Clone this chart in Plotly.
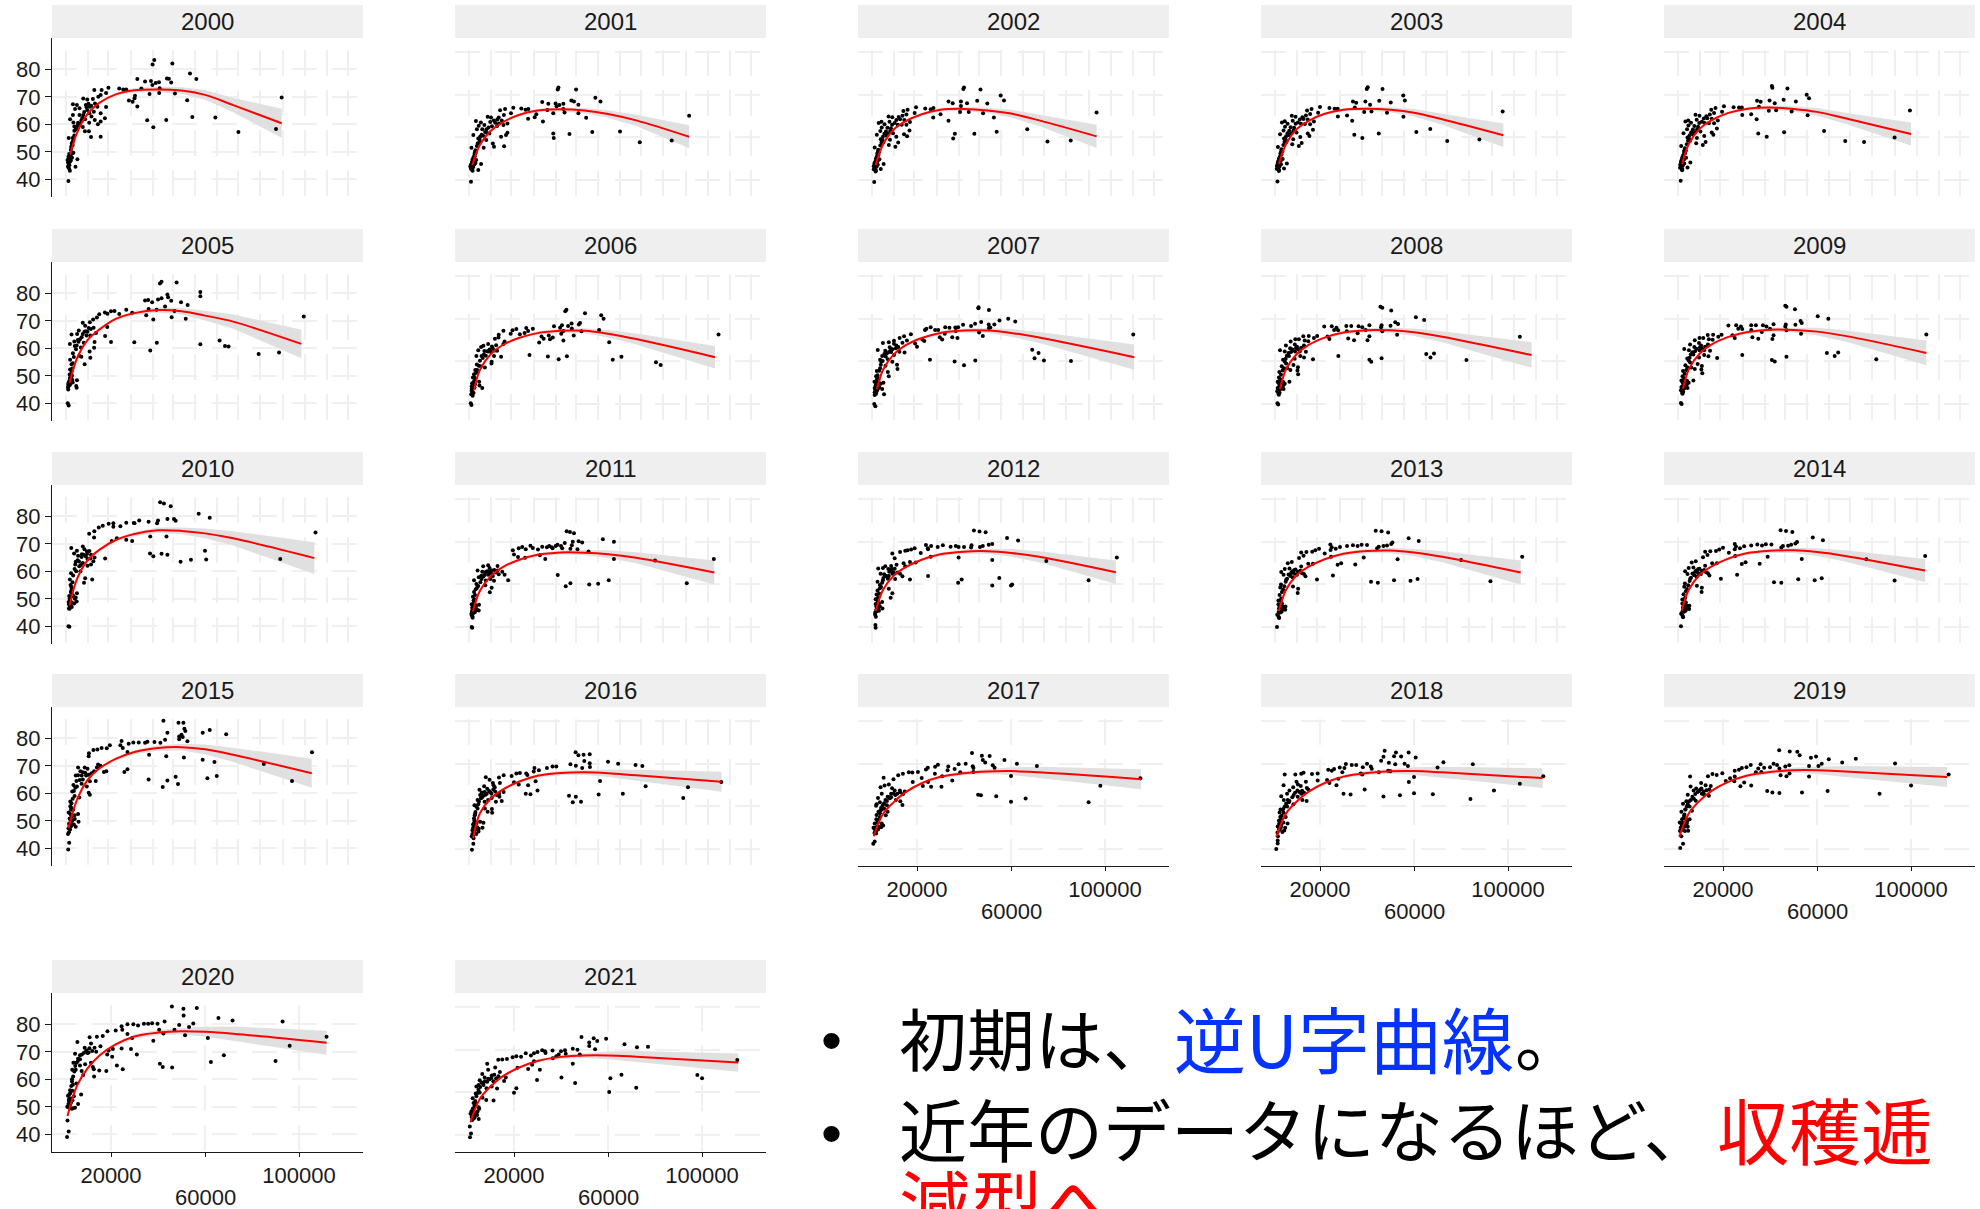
import plotly.graph_objects as go

YEARS = list(range(2000, 2022))
# Each P list: GDP per head (thousands) and life expectancy, alternating x, y
P2000 = [38.4,83.4,37.7,81.8,46.1,82.1,53.6,78.5,56.3,76.5,31.2,76.5,34.5,75.6,37,75.8,37.6,74.3,39,75,40.4,75.3,43.8,76.7,44.6,76.6,45.6,75.2,40.7,73.1,40.5,71.4,47.2,71.2,36.4,71,32.9,73,31.2,66.5,35.4,61.5,38,58.9,43.5,61.6,54.6,62.7,64.4,62.5,74.2,57.2,90.2,58.3,92.6,69.8,52.4,68.8,27.6,68.7,29.2,68.2,30,69.5,30.2,70.4,23.5,73,25.2,72.7,26.5,72.7,18.9,73.3,16,72.5,12.9,72.5,17.9,71.4,15.6,70.7,14.6,70,12.3,69.2,17.9,66.3,15.6,64,17.4,62.2,15.6,61,14.4,60,15.6,55.5,11.5,55.4,10.6,57.5,8.9,57.5,8.2,69.4,9.9,69,9.3,67,5.5,67,3.8,67.3,6.6,65.8,4.7,65.6,3.8,63.4,6.6,63.4,8.2,63.4,4.4,59.2,5.8,59.7,8,59,9,61.8,2.6,61.8,4,60.7,9.9,65.2,11,66.4,12.7,64.6,11.7,62.8,10.7,60.6,13.1,61.6,4.4,57.7,2,55,3.7,55,3.7,52.5,2.9,50.7,4,49.7,1.9,48.2,1.5,47,1.9,45.8,2.5,43.1,1.9,39.4,4.9,44.6,5.7,47.3,1.7,44.7,3,48.2,3.4,49.5,2.2,49.2,2.6,46.5,3.2,52,3.6,53.5,2.1,47.5]
P2001 = [38.9,83.4,38.6,82.5,46.4,82.5,54.6,78.6,56.8,76.9,32,76.6,34.6,75.8,37.7,75.9,38.1,74.7,39.3,75.2,41,75.8,44.4,77.3,45.5,76.9,47.4,75.3,34.2,72.9,41,73.4,41.5,71.7,47.4,71.3,36.7,71.3,50.7,69.2,28.8,69.5,26,68.8,29.5,70.9,32.3,67.5,36.7,61.9,36.9,59.7,43.6,61.6,53.3,62.5,65.1,62.8,73.5,57.7,87.1,58.6,94.5,70.2,23.1,73.6,24.9,73,26.1,73.4,19.7,73.9,16.2,73.4,14.1,72.8,18.7,71.3,15.7,70.5,13.5,69.4,12.9,68.4,17.2,66.6,15.5,65.8,17.2,62.2,16.6,61.1,14.5,60.3,15.8,55.9,11.5,55.6,11,57.2,7.1,55.2,8.8,69.7,10.2,69.4,9.9,67.3,12,66.9,3.8,67.7,5.9,67,5,65.5,7.4,65.8,4.2,63.8,6.5,63.8,8.3,63.8,2.7,61.1,9.5,61.9,5.6,60.3,8.2,58.8,4.8,59.5,5.5,58,1.9,55.2,3.6,54,3.2,52.2,2.4,49.7,3.9,49.4,2,47.8,1.4,46.3,2.4,44.4,1.7,39.2,4.8,44.7,6,47.5,1.7,45.5,2.4,47,3.2,48.6,2.2,46.2,2.8,50.8,3.4,53]
P2002 = [40,83.4,39.7,82.8,47,82.5,55.6,79.7,57,77.3,33.4,76.9,35.2,76,38.7,76.9,41.3,76.1,38.7,74.8,45.6,77.2,49.9,75.9,38.3,71.9,42,71.9,48.1,71.3,52.7,69.4,30,70.9,26.9,69.4,33.4,67.8,36.1,61.7,35.4,59.5,44.4,61.7,53.9,62.7,66.9,63.8,75.5,58.1,85.4,58.6,96.4,71.7,23.5,73.6,25.8,73.2,27,73.8,19.6,74.2,16,73,14.2,72.4,19,71.5,15.5,70.8,13.8,70.2,12.2,69.6,17,67.2,15.5,66,16.8,63.3,14.5,61.5,15.8,60.6,11.2,60.3,12,57.6,8,56.5,10.8,55.6,7.9,69.8,9.5,69.5,11.2,68.2,8.3,67.4,4.9,67.4,3.7,66.8,6.2,66.2,5,64.7,7.4,64.5,4.4,63,6.8,62.8,8.6,63,2.9,61.3,9.8,62,5.5,60.3,8.5,58.9,4.6,59.2,5.6,57.6,2,55.3,3.5,54.2,3.1,52.5,2.5,50,4,49.7,2.1,48.2,1.6,46.5,2.5,44.5,1.8,39.1,4.6,45.2,5.8,47.5,2,45.6,2.6,47,3.2,48.8,2.3,46.3,2.9,51,3.4,53.3]
P2003 = [40.3,83.6,39.9,82.7,46.6,82.7,55.4,79.7,56.1,77.3,34,76.9,35.4,76.3,39.3,76.9,45.2,77.2,50.1,76.4,41.3,75.3,34.8,74,38.8,71.9,41.9,72.2,48.5,71.6,55.5,69.7,31.5,70.3,27.6,69.8,33.7,67.8,34.6,61.3,38,59.7,45,61.9,61,62.5,66.9,63.9,74.1,58.3,87.8,59,97.7,72.2,24,73.8,26.2,73.5,27.5,73.5,20,74.3,16.4,73.4,14.5,72.6,19.2,71.6,15.8,71,14,70.3,12.5,69.5,17.4,67.5,15.8,66.2,17,63.6,14.8,61.8,15.5,60.7,11.6,60.2,12.2,57.4,8.2,56.8,11,56,8,70.2,9.6,69.7,11.4,68.4,8.4,67.8,5,67.6,3.8,67,6.2,66.4,5.1,65,7.5,64.8,4.5,63.2,6.9,63.1,8.7,63.2,3,61.5,10,62.3,5.6,60.5,8.6,59.2,4.7,59.5,5.7,57.8,2.1,55.5,3.6,54.4,3.2,52.6,2.6,50.2,4.1,49.9,2.2,48.4,1.7,46.7,2.6,44.7,1.9,39.3,4.7,45.4,5.9,47.7,2.1,45.8,2.7,47.2,3.3,49,2.4,46.5,3,51.2,3.5,53.5]
P2004 = [40.8,84.2,41,83.3,47.4,83,55.6,80,56.6,78.4,34.5,77.2,36,76.8,39.8,77.4,45.8,77.7,51,76.9,42,76,35.3,74.4,39.5,72.5,42.6,72.8,49.2,72.2,56,70.4,32,70.9,28.2,70.5,34.3,68.5,35,61.9,38.6,60.3,46,62.4,63,63,72,58.3,80,57.9,93,60,99.5,72.6,24.5,74.2,26.8,74,28,74,20.4,74.7,16.8,73.8,15,73,19.6,72.1,16.2,71.5,14.4,70.8,12.9,70,17.8,68,16.2,66.7,17.4,64.2,15.2,62.3,15.9,61.2,12,60.7,12.6,57.9,8.6,57.3,11.4,56.5,8.3,70.7,10,70.2,11.8,68.9,8.8,68.3,5.2,68,4,67.5,6.4,66.9,5.3,65.6,7.8,65.4,4.7,63.8,7.2,63.7,9,63.8,3.2,62,10.4,62.8,5.8,61,8.9,59.7,4.9,60,5.9,58.3,2.2,56,3.8,54.9,3.4,53.1,2.7,50.7,4.3,50.4,2.3,48.9,1.8,47.2,2.7,45.2,2,39.6,4.9,45.9,6.1,48.2,2.2,46.3,2.8,47.7,3.4,49.5,2.5,47,3.1,51.7,3.6,54]
P2005 = [41.5,84.2,40.8,83.6,47.9,83.9,58,80.5,58,78.9,34.5,77.4,35.8,77.6,37.5,76.8,40,77.8,41.5,78.2,44,79.6,44.3,78.6,45.6,77.3,49.8,76.8,52.6,75.8,43,75.2,36,74.3,39.4,74,38,70.5,35,72,45.8,71.3,51.8,70.8,47,73.6,66.2,62.8,58,61.5,29.9,62.2,36.7,59.2,39.5,62,68.5,60.8,70,60.7,82.8,57.9,91.5,58.5,102,71.6,26.5,74,23.5,72.5,29,72.9,20,73.5,21.5,73.6,18.5,72.6,17.4,73,15,72.4,14,71.2,12.4,70.5,11,69.5,18.4,67.8,17.5,64.5,20,62.3,13,62.3,12.8,60.2,10.9,58.8,11.2,56.6,7.4,56.9,8.8,54.2,8,69.3,9,68.2,6.3,66.5,5.6,65.2,3.2,65,7.5,64,9.6,64.7,11.2,64.7,4.4,62.5,6.2,62.4,8.4,62,2.5,61.6,13.6,65.6,5.1,59.7,3.8,58.2,6.5,57.3,2.6,55.8,3.5,52.7,3.1,50.5,2.8,48.7,3.7,47.6,2,47.5,1.7,45.8,1.8,45,1.6,40,2,39.2,5.5,48.4,5.2,46.3,5.4,45.7,2.4,50.5,3.2,54.2,2.6,52.3]
P2006 = [42.3,84.3,41.8,83.6,50.2,82.6,57.1,81.7,58.1,80,56.2,74.8,47.6,77.3,48.1,78,44.5,77.8,40.4,77,43,76.6,37,76.5,39.6,75.8,44.6,75.5,48.7,74.2,41,74.3,45.4,72.2,40.1,73,35.3,70.4,31.7,71.7,32.6,70.7,34.8,72.2,36.5,71.2,41,69.8,30.7,68.9,34.4,62.3,26.6,63,39,61,42.5,62.4,62,60.8,60.5,69,65.7,62.2,80.4,59.6,82.4,58.3,107,72.7,28,75.4,25.2,75.7,26,74.3,24.5,73.4,21,75.2,22.5,72.8,19.4,74.6,18.6,73,15.5,74.4,13.5,72.5,13.4,71.2,11.9,70.6,16,69.4,15.5,68.2,12.4,67.6,10.6,67,9,68.2,7,67.4,6,66.8,4.8,65.2,7.4,64.9,9,64.7,4,62.5,6.2,62.5,11.5,62.5,14.5,62.2,10.5,59.8,10.4,59,5.9,57.7,7.6,57.2,3.5,56,3,54,2.5,52.5,5.2,50.5,5.3,48.7,2.7,49.3,2,47,2.1,46,2.4,45,1.6,40.3,1.9,39.5,6.5,47.5,3.4,51,2.9,47.5,4.2,58.5]
P2007 = [46.2,85.5,46.1,85,50.6,84.2,55.1,79.2,52.9,77.3,58.8,80,61.8,78.7,47.3,78.5,50.5,77.3,44.7,77.7,50.6,75.7,51.2,75.9,43,76.6,39.6,77.2,36.3,75.9,37.5,76.1,33.8,75.8,32,76,24,75.4,25.8,76,23.4,74.8,27.7,74.8,29,74.8,31.8,73,36.5,74.3,46.4,73.6,48,72,35,71.3,29.7,71.4,30.7,70.3,37.2,71,22.3,70.3,23.1,69.6,19.2,68.4,20,66.9,25.5,60.8,36,60,40,58.2,44.8,60.4,69,65.5,71.7,64,70,61.5,74,60.4,85.5,60.2,112,72.7,17.4,72.8,14.5,71.8,12.6,71,15.7,69.8,13.8,68.8,10.2,69.7,10.2,68.3,8,69,5.5,68.6,8.4,66.7,11,66.2,3.3,65.4,6.5,65,9,64.4,12.5,64.5,14.7,64.2,5.2,62.5,4.3,60.8,7.6,61,9.5,59.8,11.5,58.4,4.6,58.4,6.6,58,11.7,56.5,7.6,55,8,53,2.9,55.5,2.6,53,1.9,50.5,3.3,50,5.7,50,5.2,47,4,47.8,2,47.5,2,45.5,1.8,40,2.3,39,2.8,46,6,44.6,3.5,52]
P2008 = [45.7,85.7,46.5,85.2,50.3,83.9,60.8,80.7,64.3,79.5,52,78.4,50,76.8,53.2,77.6,46.2,77,46,76,41,77,38,76,36.4,76.5,33.3,76.6,31.2,76.6,25,76.5,27,75.8,21.8,76.4,26,74.8,27.7,74.7,31.4,74.2,36,73.2,39.4,74.8,46.5,74.2,52.8,72.5,41,71.8,32,70.8,34.5,70,40.2,70,23.2,71.7,24,70.5,18.8,71.9,17.4,71,15.2,72,12.9,71.8,11,70.4,13.5,69.8,15,69.5,9.5,70.4,7.5,69.4,9.3,68,10.2,66.9,5.5,67.5,7.3,66.2,3,65.3,5,64.7,9.4,64.7,11.4,64.7,14,64.5,6.8,62.6,4.3,60.8,9.2,61.2,13.2,61.8,17,61,27.8,62.5,41,60.8,41.8,59.8,46.2,61.5,65.2,63.5,67,61.9,68.5,63.7,82.3,60.7,105,71.6,10.6,57.3,10.4,55.7,8.7,58.3,10.7,54,5.6,59,6,56.8,7.4,56,3.7,57.7,2.7,55,2.5,52.5,2,50.5,3,50,4.4,50.3,5,49.5,2,47.5,1.8,46,2.5,44.3,1.9,40.3,2.2,39.8,4.5,47,7,50.5]
P2009 = [46.5,86.2,47,85.7,50.6,84.5,60.3,81.2,64.8,80,53,79,50.8,77.2,53.5,78,46.7,77.4,46.5,76.4,41.5,77.5,38.5,76.4,37,77,34,77,32,77,25.6,77,27.6,76.4,22.3,76.9,26.5,75.3,28.2,75.2,32,74.8,36.5,73.8,40,75.3,47,74.7,53.2,73,41.5,72.3,32.5,71.3,35,70.6,41,70.5,24,72.3,25,71,19.4,72.5,18,71.6,15.8,72.5,13.5,72.4,11.6,71,14,70.4,15.6,70.2,10,71,8,70,9.8,68.6,10.7,67.5,6,68,7.8,66.8,3.5,65.8,5.5,65.3,10,65.3,12,65.3,14.5,65,7.4,63.2,4.8,61.4,9.8,61.8,13.8,62.4,17.5,61.6,28.2,63,40.8,60.7,42,60,47,62.2,64.2,64,67.5,62.5,69,64.2,85.2,61,106.5,72.7,11,57.8,10.8,56.2,9.2,58.8,11.2,54.5,6,59.5,6.5,57.2,8,56.5,4,58.2,3,55.5,2.8,53,2.3,51,3.4,50.5,4.8,50.8,5.4,50,2.3,48,2.1,46.5,2.8,44.8,2.1,40.5,2.4,40,4.9,47.5,7.4,51]
P2010 = [40.9,85.1,42.5,84.7,45.4,83.7,57.3,80.9,62,79.5,44,79,46.8,79,47.5,78.4,40,78.5,39.6,77.5,36,78,32,78.5,30,77.5,26.5,77.7,29.7,77.6,24,76.4,21,76.2,21,77.5,19,77.3,16.5,76.6,14.8,75.9,12.9,74.6,10.7,73.7,12.8,72.3,22.5,72,26.5,71.5,20.3,71,29,71,36.7,72.7,43.6,72.7,60,67.5,92,64.5,107,74.1,36.6,66.5,38,65.5,41.5,66.4,44,66,49.6,63.5,54,64.2,60.5,64.3,17.5,64.7,8,69,8.7,68,9.8,66.3,11.5,66,13,65,10,64.5,5.5,67.5,3.1,68.5,4.3,66.5,6,65.7,7.5,65.2,4.8,62.5,6.5,61.8,8,63,10,62,11.5,62.5,5.2,60,7,60,3,59.3,9,57.5,8.5,55.8,12,57,2.5,57,2.8,55,3.3,53.5,2.2,51,3.2,50.8,5,50.5,5.5,52,5.4,49,4.3,48.3,2.1,48,2.5,47.2,1.9,40,2.3,39.8,3.3,47,2.4,50,3.1,52.2]
P2011 = [42.4,85,43.8,84.6,45.5,84,57.8,81.2,62.5,80,47.5,80.3,45,80,49,79.7,41.6,79.4,40,78,44.6,78.4,35,78.1,36,77.5,37.7,78,38.5,78.6,40.5,77,44,76.8,47,76.5,27,78.2,28,77.1,32,77.7,34,77.5,36.4,77,30.2,76.4,23.5,77.6,22,77,25,76.5,19.5,76,20,74,21.7,72.9,24.7,72.5,31,73.7,33.3,72,51.7,75.5,62.5,72,80,71.2,105,72,38.6,64.4,42,59.2,44,60.5,52,60,55.8,60.3,60.3,62,93.5,60.5,17.5,62,15,66,16,64.5,13.5,64.8,12.2,65.6,10.5,66.5,13,68.7,9,69,9.6,67.7,6.9,68.5,4.5,66.5,6.5,66,7.8,65.7,9,64.6,5,63.4,6.2,62.6,8,61.8,10,62.5,11.5,61.7,3,62,4,60.2,7.8,59.6,10.5,58.4,9.7,56.3,3,56.5,2.5,54.2,2.8,52.4,2,50.7,2.9,50,3.6,50.3,5.1,50.5,5,47.8,4.4,48,2.1,47.5,2,46.5,2.3,45,2,40,2.2,39.7,3.4,47]
P2012 = [44.2,85.3,46.6,84.9,49.2,84.5,58.3,81.8,63,80.6,50.5,78.6,48,78,52,79,43.2,78.4,43,77.4,46.8,77.6,40,77.6,37.7,77.6,34.3,77.7,36.5,78,31,78.4,28.8,77.6,26,78,24.6,77,23.8,78.5,24.7,76.5,19,77,17.5,76.4,16,76,15,75.8,12.8,75.2,9.5,74.5,10.5,72.3,21.6,74.8,25.8,73,37.7,72.6,52,71.5,75,71,105,72.7,17,70.5,19.5,70.3,14.3,70,11.3,69.2,15,68.5,9,68.6,6.5,68.5,5.5,67.7,7.8,67.2,3.5,67.5,4.5,65,6,64.8,8.2,66,9.5,65,5.5,62,7.6,62.7,10.7,62.6,13.8,63.8,17,62.3,24.7,64,37.5,60.8,39,62.3,52,59.5,55,63,60.5,60,60,59.5,93,62,3.2,61.3,4.2,59.7,8,58,9.5,55.8,8.8,53.8,3.2,57.2,2.8,55.3,2.4,53,2.4,50.8,3.2,51.5,5.2,51.8,5.3,48.7,3.3,49.5,3.8,47.6,2.2,46.7,2.3,41,2.4,39.6,2.8,48.2,3.5,49]
P2013 = [43.7,85.2,46.2,85,49,84.4,57.7,81.7,62,80.4,50.3,79,48.5,78.3,50.8,79.7,45,77.7,44.3,77,47,78,40,78.5,37.7,78.6,34,78.4,36,78,31.5,78,28.5,77.6,26.7,76.7,25,77.5,24.4,78.8,24.5,76.2,19.6,76.8,18,76,16.7,75.4,14.2,75.2,12,75,13,73.5,11.1,72.4,22,74.5,24.7,73,38.6,72.7,53,71.8,80,71.5,106,73,35,69.4,27.5,69.3,29,70,15,69.7,17,69.7,12,68.4,8,70.5,6.3,70,5,67.3,7,67.5,9.1,66.8,3.5,65.8,4.5,64.5,7.8,65.5,8.4,63.2,5.6,62.2,10.2,64.5,13.8,63.8,18.7,62.3,25.5,64.2,41.7,61.2,44.6,60.8,51.5,62,58.5,61.7,61.5,62.5,92.5,61.5,3.4,60,8.5,59,10.7,58,10.5,56,3.1,58.5,2.8,55,2.3,52.5,2.3,50.7,3.2,49.8,5.3,49.6,5.2,48.1,3,48.3,3.7,47.2,1.8,45.8,2.6,44.2,1.7,40,3.1,47,4.3,48.3]
P2014 = [44.5,85.4,46.8,85.1,49.5,84.6,58.2,82,62.5,80.7,50.8,79.2,49,78.6,51.5,79.9,45.5,78,44.8,77.3,47.7,78.2,40.6,78.8,38.2,78.9,34.6,78.7,36.6,78.3,32,78.3,29,77.9,27.2,77,25.5,77.8,25,79,25,76.5,20,77.2,18.4,76.4,17,75.7,14.6,75.6,12.4,75.4,13.4,73.8,11.5,72.8,22.5,74.9,25.2,73.4,39,73,53.5,72,81,71.8,106,73.3,35.6,69.7,28,69.6,29.6,70.4,15.4,70,17.4,70,12.4,68.8,8.4,70.9,6.7,70.3,5.4,67.7,7.4,67.9,9.5,67.2,3.9,66.2,4.9,64.9,8.2,65.9,8.8,63.6,6,62.6,10.6,64.9,14.2,64.2,19.1,62.7,26,64.6,41.7,61,44.8,60.8,52,62.4,59,62,62,62.9,93,61.8,3.8,60.4,8.9,59.4,11,58.4,10.9,56.4,3.5,58.9,3.2,55.4,2.7,52.9,2.7,51.1,3.6,50.2,5.7,50,5.6,48.5,3.4,48.7,4.1,47.6,2.2,46.2,3,44.6,2.1,40.3,3.5,47.4,4.7,48.7]
P2015 = [42.3,86.4,48.7,85.7,50.8,85.7,51.2,83.5,51.6,82.7,62,83,59,82,69,81.5,50,81.3,50.5,80.5,44,82,49,80.7,49,79.7,52.5,78.9,43,79.5,41,78.4,38.5,78.7,34.5,78.4,35.5,78.8,31.8,78.5,29.5,78.5,27.5,78,25,76.5,24,77.5,24.5,79,19.5,77.5,18.2,76.4,16,76.5,14.2,75.9,12.5,75.8,10.6,74.6,10.5,73.5,27,75,36.2,74,43.5,73.5,51,73,59,72.2,64,71.4,85,70.7,105.5,74.9,25.7,67.8,27,68.8,36,65,47.5,66,42,62.3,44,64.7,48.5,63.4,61,65.5,65,66.3,97,64.5,14.5,70.5,15.5,70,14,69.4,18,68,17,67.8,10,68.9,6,69.4,9,67.5,7.5,66.5,5,66.5,8,65,11,64.4,13.5,64.5,4,63,5.5,62.5,7.5,63.5,9.7,62.5,10.5,60.2,11,59.5,3.5,60.7,4.5,59,6.5,58.5,2.7,57,2.7,55.3,3,54,2,53,4.5,52,3.3,51.6,6,52.5,6.2,49.7,3.5,50,2.3,48.5,3,48,1.7,45.2,2.2,42,1.8,39.6,2.7,50.5,5,47.8]
P2016 = [46.2,85.5,47.4,84,49.6,84.3,52.2,84.5,49.9,81.3,52.2,80.3,60,81,64.3,80,71.7,79.5,74.6,79,49,78,46.3,79.1,44,79.8,52.3,78.5,38,78.7,36.4,78.7,34,78,30.6,77,28.7,78,28.4,76.4,25.2,75.5,25.7,74.8,22.5,75.7,21,75.5,19,74.3,15.6,74.6,13.6,73.6,8,73.7,14,71,22,70.3,20,71.3,29.2,71.8,26,70,56.6,72,76,69.5,94,69,108.2,71.5,30,67.5,25,66,27,65.7,45,62,43.4,65,48.5,62.2,46.3,64.5,56,65.6,66.3,66,92,64,9.6,72.5,11,71,11.3,70,11.8,69,8.6,68.3,7.3,69.5,5.3,67.8,6.3,66.6,5.6,65.4,7.9,65.5,10,66.7,12,67,13.7,66,15.6,66.8,4.5,63,7.5,62.2,9,63,10.5,64,12.3,62.2,14.8,62.5,3.2,60.6,4.5,59,7.6,59,8.8,57.5,10.6,58.8,10.7,57,3.5,56.6,3,54.5,2.6,51.5,3.4,50.5,5,49.5,7,52.3,6.6,50,4.9,48.2,3.9,47,2.3,47,2.8,45,2.7,42.5,2.1,39.6,4,52,3.1,48.5]
P2017 = [43.4,85.1,47.6,83.8,50.9,83.7,57.2,81.8,62.5,80,71,79,48,81.8,49,80.6,52.2,79.3,53,78.2,37.7,79.8,40.7,80,43.7,78.9,44,78,33.3,78.8,36,77.6,28.9,79.6,27.7,78.6,24.6,78.2,23.8,77.4,33,77,38.4,76,44,76.2,60,74.3,27.6,75.3,30.7,74.2,20.4,76.2,18,75.9,16.5,76,14,75.3,12,74.6,10,72.8,5.8,73.5,4.5,69,22,73.4,24.7,71.5,22.5,69.6,30.4,69.3,35,72.2,26,69.3,46,65.5,47.2,65.2,53.7,64.8,60,62.2,66.2,63.7,93,62,98,69.7,115,73.2,18.2,71.5,10.5,67.5,9,66,7.5,64.5,9.4,68.5,6.2,69.8,12.7,67.5,14.8,67,14,65.7,8,70.3,5,66,7.2,62.5,11,63,12.9,62.4,13.8,60.7,4.2,62,3.4,64,2.8,61,2.6,60.3,4.7,59.3,6,59,6.7,55.8,7.5,57.5,4.2,55,2.8,56,2.7,54,3.3,52.7,2,52,1.5,50,2.6,47.3,1.4,42.5,2,43.5,5,52,3.6,57.5]
P2018 = [47.5,86.1,52.3,85.3,57.7,85.3,51.5,83.6,54.5,83.4,60.7,83,47,83.3,46,81.5,49.3,80.5,56,80,52,79.8,57.4,79,72.5,80.7,70,78.3,85,79.8,40,80,41.6,78.7,38.2,78.4,42,77.7,31,79.9,33.5,79.5,35.4,79.5,28.4,78.3,30.4,78,26,77.6,23.5,77.2,45,76,50,76.5,49,76.8,37.3,75.5,38,75,25,76.8,29.5,76,19,75.5,16.6,75.2,13,75.8,12,75.3,9.5,75,5,75,27.8,73,19,72.2,23,72.4,24,71,27,70,60,73.8,57.8,71.5,105,70.6,115,74.2,30,66,33,65.6,39,68,47,64.7,54,65.2,60,66.2,68,65.7,84,63.5,94,67.5,10,71.6,10.6,70.3,11.8,69.6,14,71.6,8.6,69,15,68,4.5,70,7,67.5,6,66,12,66,10.5,64.5,12.5,63,14.3,62.5,3.5,64.8,4.6,63,6.7,62,8.7,61,6,60,3.2,58.5,2.8,57.2,4.5,57,3.1,55,5.4,55,2.5,53.3,3.8,52.2,5.2,50,2.6,49.5,4,48,2.1,46,2,42.6,1.4,40,2,44,3.3,50]
P2019 = [43.9,86.4,48.4,85.8,51.6,85.7,52.6,84,57.4,82.9,59.6,83.5,65,82.2,76.5,82.4,93.2,80.2,70.7,80.6,62,80,60.6,79,56.6,79,48.2,79.3,46.5,78.7,41.5,80,43,79.5,40,78.4,44,77.8,36,79.8,37.5,78.2,35,77.8,31.8,79.4,30,78.4,28,78,26.8,77.2,25,76.8,34,76,36.3,76.2,48.3,75.5,47,74.2,56.6,74,44.5,74.6,25,74,23,73.2,21.2,72,19.7,75.6,17.3,74.8,15.5,75.2,13.6,74.2,6,74,24.8,71.8,29,71.2,27.4,69.5,32,69.8,38.8,67.2,41,66.6,44,66.3,53.6,66.5,64.5,67.3,86.6,66,100,69.8,116,75,10.7,71,12.6,69.9,10.4,68,8.6,68.4,14.8,69.6,6.2,69.4,7.5,67.5,5,65.5,11,66,14,65,12,65.5,8.4,62.7,4.4,62.4,3,61.3,5.8,60,4,58.6,2.3,57.5,6.8,58,3.4,55.5,4.3,54,2.6,54,3.5,51.8,1.6,52.5,5,50.5,2.5,49,2.3,46,3,42.5,1.8,40.5,3.8,48.5,4.7,53]
P2020 = [45.9,86.5,50.8,85.7,56.5,85.9,50.9,83.2,65.7,82.3,71.7,81.4,93,81,96,72.2,61.2,75,51.5,76,47,78,49,79.8,55,80.3,53.2,79,39.8,80.2,42.8,81,35.8,80.2,34,80.2,37.5,80.4,27,80,29.5,80,31.5,79.6,24.5,79.3,24.8,78,40.5,78,42.3,76.7,38,74,27,76.5,29,75,22,77.8,18.5,77.5,16.5,75.8,14,75.5,10.9,75.3,5.7,73.6,28.5,71,20.8,71,24.5,71.2,31,69,40.8,65.7,42,64.5,46,64.3,62.5,66.3,68,68.8,90,66.7,111.7,75.5,19,70.5,18.4,69,20.5,68.2,15.5,72,11.5,73,8.8,71.5,13.7,70,10.5,69.8,4.7,69.3,6.8,68.8,5.8,66.5,4,66,6.8,65,9,65.5,11.5,66,12.3,64.5,5,63.5,3.5,63.5,7.5,63,8.2,61.6,12.7,63.7,15,63.2,18,63,22.5,65,25,63.7,12.8,61,7.3,54.5,3.4,60,3.8,58,5.3,58.5,1.7,54,2.5,53,3.7,55.8,2.2,52,4.7,49.7,6,51,3.3,49.3,1.4,50,1.5,45,2,41,1.3,39,3.8,49.5,2.6,56]
P2021 = [48.7,86,53.9,85.5,59.2,85.2,55.4,84.2,52,83.5,67,82.6,72.3,81.2,77,81.5,52,81.8,54.5,80.3,47,80,45,80.5,41.7,79.8,40,79.3,36.4,79.7,32,79.8,33.2,79.3,30,79,28.5,78.4,25,78.4,27.2,77.4,33.4,78.5,39,77.8,38,77,48,77.8,21,77,23,76.8,19.4,76.5,17,75.7,15,75.5,13.3,75.4,8.6,73.5,28.5,74.7,27.7,73,42,78.2,36.5,76.1,45,73.5,26,71,21.5,71.6,31,70.7,40.2,67,29.8,65.8,46,64.4,61,66.7,65.7,68.3,60.5,60.2,72,62.2,98,68.2,100,66.7,115,75.2,9,70.7,12,71.7,14,69.6,11.6,68.3,10.5,68,6.5,68.7,7.5,67,9,66.4,5.4,65.7,16.5,67,15.8,65.4,5,63.5,7,63.5,8.3,62,10.5,62.8,12.8,61.8,21,62,20,59.8,4,62.8,3.7,59.5,5.4,60,6.6,57.5,8.2,56.5,11.3,56.2,2.4,57.3,2.8,55,3.7,54.8,2.5,52.5,5,53,4,50.5,1.5,50,2.5,49,2.2,47,1.2,44,1.7,40.7,1.3,39,5,47.5,3.3,48.5,4.5,51]

# Points in the dense lower-left cloud of each panel, alternating x, y
E2000 = [2.2,46.3,2.4,47.9,2.8,49.2,3.1,51.5,3.3,53,3.9,54,4.4,55.9,5,58.2,5.4,58.8,6,60.6,6.8,60.2,7.4,61.5,7.8,62.3,8.6,64.5,9.6,66.2,10.4,67.5,10.8,64,11.6,66.8,13.2,67.6,14.2,66.4,1.8,46.2,2.3,45.1,2.9,46.8,3.4,47.8,2.1,44]
E2001 = [2,46.7,2.2,48.7,2.6,48.6,2.9,49.9,3.3,51,3.7,52.8,4.2,56,4.6,57.3,5.3,59.2,6.2,61.2,6.9,60.8,7.7,62.5,8.5,62.1,9.2,64.7,10.6,65.2,11.4,68,12.8,65.4,13.6,66.5,14.8,68,1.6,47,1.9,44.9,2.6,46,3.1,47.3,2.1,45,3.6,48]
E2002 = [1.9,46.9,2.3,48.6,2.7,49.3,3,50,3.6,51.8,3.9,53.2,4.4,56.2,4.9,57.6,5.3,58.8,6.1,61.7,7,60.8,7.6,61.8,8.9,64.3,9.4,66,10.5,66.8,11.8,66,12.8,68.5,13.5,66,14.6,68.2,1.6,45,2.2,45,2.8,46.2,3.3,47.2,1.9,47.7,2.4,44]
E2003 = [1.9,46.8,2.3,48.9,2.7,49.5,3.1,50.4,3.6,52,4,53.4,4.4,56.4,4.9,58,5.4,59,6.2,62,7,61,7.8,62,9,64.6,9.6,66.4,10.6,67,11.9,66.4,13,68.7,13.6,66.3,14.8,68.4,1.6,45.3,2.2,45.2,2.8,46.4,3.4,47.4,2,48,2.5,44.2]
E2004 = [2,47.2,2.4,49.4,2.8,50,3.2,50.8,3.8,52.4,4.2,53.8,4.6,56.8,5.1,58.4,5.6,59.4,6.5,62.4,7.3,61.4,8.1,62.4,9.4,65,9.9,66.8,11,67.4,12.2,66.8,13.3,69,14,66.7,15.2,68.8,1.7,45.7,2.3,45.6,2.9,46.8,3.5,47.8,2.1,48.4,2.6,44.6]
E2005 = [1.9,46.7,2.2,48,2.5,49.2,2.9,49.4,3.2,51.5,3.4,50,3.8,54.6,4.2,56.8,4.6,60.8,5.4,61,5.9,63,6.8,63.3,7.2,60.3,8,65.2,8.7,66,9.3,66.2,10,66,10.5,67.4,11.4,67,12.6,67.5,1.8,47,2.4,46.6,2.8,47.3,2.2,47.5,3.5,48.6]
E2006 = [2,46.4,2.3,48.2,2.6,47.4,2.9,50.4,3.2,52.5,3.4,49.3,3.9,54.7,4.3,56,5,58,5.5,60.3,6.7,61.6,7.2,63.3,8,62.7,8.6,64.8,9.6,65.6,10.2,64.4,11,66,11.8,65.1,12.8,65,1.8,44.6,2,48.3,2.4,43.9,2.8,45.2,3.2,47.8,2.2,49.8]
E2007 = [2.2,46.8,2.5,47.8,2.7,49.6,3,51.6,3.2,53.5,3.6,50.7,3.9,55.6,4.3,56.8,4.8,60,5.4,60.2,6.1,63.5,6.7,62.3,7.2,63.8,8.1,64.4,8.8,65.8,9.6,65.7,10.2,63,11.2,67.5,12,66.8,2,44.2,2.6,44.8,3.2,46.8,3.6,48.6,4.5,49.5,2.4,48.7]
E2008 = [2.2,46.4,2.6,48.1,2.9,49,3.1,51.6,3.4,53.8,3.8,50.6,4.1,55.7,4.6,56.8,5,60,5.4,61.2,5.9,62.7,6.6,63.9,7.7,64.4,8.3,65.6,9.8,66.3,10.6,65.8,11.6,62.6,12,66.4,13.2,67.5,2.3,44.8,2.8,45.3,3.3,47,3.8,48.5,4.3,48.7,2.5,49.8]
E2009 = [2.5,46.8,2.9,48.4,3.2,49.4,3.4,52,3.7,54.2,4.1,51,4.4,56,4.9,57.2,5.4,60.4,5.8,61.7,6.3,63.2,7,64.3,8.1,64.8,8.7,66,10.2,66.7,11,66.2,12,63,12.4,66.9,13.6,68,2.6,45.2,3.1,45.7,3.6,47.4,4.1,48.9,4.6,49.2,2.8,50.2]
E2010 = [2.1,46.5,2.4,48.8,2.7,49.4,2.9,52.6,3.1,54.4,3.6,56,3.9,58.5,4.5,60.8,5,63.5,5.8,64,6.4,63.6,7.2,62.3,7.6,66.2,8.3,66,9.2,65.5,9.8,67.2,10.8,67.4,11.2,64.7,12.5,63.7,2.4,46.4,2.8,47.6,3.4,48.6,4.6,50,2,48.8,3.8,51.3]
E2011 = [2.3,46.3,2.5,48.4,2.7,49.3,3,51.3,3.2,53,3.4,55,3.7,57.7,4.2,58.3,4.8,59.3,5.7,61,6.1,64.1,7,63.7,7.5,64.4,8.5,66.2,9.2,66.1,10.2,65.3,11,64,11.6,66.8,13,66.6,1.9,45.8,2.4,44.3,2.8,46.6,3.3,48.5,3.8,49.5,2.2,49]
E2012 = [2.5,47.2,2.7,49.6,3,50.2,3.3,52.5,3.5,54,3.9,55.7,4.2,58.2,4.7,58.8,5.2,60.8,5.7,63,6.6,64.1,7.1,63.8,8,64,8.8,66.4,9.3,67.2,10,65.7,10.5,67.4,11.7,65.6,12.8,65,2.2,45.8,2.5,44.8,3,47.6,3.6,48.2,4.2,49.8,2.7,48,3.8,51.2]
E2013 = [2.4,47,2.6,48.8,2.9,49.8,3.2,52.3,3.5,53.4,3.8,56.4,4.3,57.5,4.8,59.2,5.4,61.2,6,62.7,6.6,64.7,7.4,63.9,8.2,66.2,9,65,9.6,67,10.6,66,11.6,66.4,12.4,65.3,13.2,64.9,2.1,45.6,2.5,44.6,3,46.8,3.5,47.7,4,49.7,2.7,48.5,3.8,51.1]
E2014 = [2.8,47.4,3,49.2,3.3,50.2,3.6,52.7,3.9,53.8,4.2,56.8,4.7,57.9,5.2,59.6,5.8,61.6,6.4,63.1,7,65.1,7.8,64.3,8.6,66.6,9.4,65.4,10,67.4,11,66.4,12,66.8,12.8,65.7,13.6,65.3,2.5,46,2.9,45,3.4,47.2,3.9,48.1,4.4,50.1,3.1,48.9,4.2,51.5]
E2015 = [1.9,47.3,2.2,49,2.4,50.8,2.8,52.4,3,54.8,3.2,56.4,3.7,58,4.2,60.8,4.8,62,5.3,64.5,6,66.6,6.7,64.8,7,68,8,67.7,8.8,69.4,9.4,66.5,10.4,66.8,11.7,67.3,12.8,68,2.6,46.8,2.9,49.3,3.6,50.2,4.2,48.7,4.6,50.7,2.1,45.8,3.9,54]
E2016 = [2.3,48.8,2.6,50,2.9,52,3.1,53.4,3.3,55.8,3.6,57.4,4,60,4.8,61,5.1,62.3,5.9,63.8,6.4,64.2,7,65,7.5,66.8,8.4,66,9.4,67.2,10.4,66,11.2,68,12.7,65.4,13.8,64.6,2,46,2.5,46.5,3,47.6,3.6,49.2,4.4,50.2,2.8,49.4,5.6,52.8]
E2017 = [2.2,48.4,2.6,49.8,3,50.6,3.2,52.7,3.6,53.8,4.2,56.8,4.4,58,5,58.6,5.4,60.6,6,61.5,6.6,63,7.2,60.6,8,64.4,8.4,63.8,9,64.3,10,66.1,10.8,65.4,11.6,66,12.8,66.7,2.5,48.3,3.4,49.2,3.9,50.4,4.7,50.2,5.6,51,1.9,47.5,1.8,49.8]
E2018 = [2.4,50.4,2.6,51.8,3,52.4,3.4,54.2,3.7,55.6,4,58.4,4.4,58.8,5,60,5.6,61.4,6.3,63,7,62.5,8.2,64.3,8.8,65.4,9.4,66.4,10.4,67.5,11.2,66.8,12.4,67.4,13.2,66.4,14.4,68.6,2,50.6,2.8,49,3.5,50.8,4.4,52.4,4.8,48.7,6.2,52,1.9,47.8]
E2019 = [2,50,2.4,51.5,2.7,52.3,3.2,54.6,3.6,56.2,4,58.6,4.6,60,5,61,5.6,62.4,6.3,63,7,64.6,7.6,63.6,8.2,65.8,9.2,66.8,9.8,67.3,10.8,68.4,11.8,67,13,67.6,14.2,68,2.6,50.4,3,49.2,3.8,50.6,4.6,52,5.2,48.6,5.8,54,1.7,48.5]
E2020 = [1.9,51,2.1,52.7,2.3,54.6,2.7,55,3.1,57.6,3.4,59.2,3.9,61,4.4,62.8,4.8,64.8,5.3,66,6,67.5,6.8,67.3,7.6,69,8.5,69.7,9.5,70.5,10,69.6,10.8,71.3,12,70.3,13,71.5,2.5,50.7,3,51.5,2.9,53,3.6,52.4,1.8,49.8,2.3,50,4.2,53.8]
E2021 = [2,48.6,2.2,50.6,2.5,50.3,2.8,52.2,3.2,53.8,3.5,56,4,58.2,4.5,59.7,4.9,61.2,5.6,62.6,6.2,64.7,6.9,64.3,7.6,65.3,8.6,65,9.6,66.2,10.4,66.8,11.2,65.3,12.4,66.6,13.4,67.6,2.4,48,3,49,3.6,50,4.3,49.4,1.9,51.2,2.9,47.7,5.2,52.3]

# Fitted curve: knots shared, then per-year start, end and values
KNOTS = [5.5, 10, 15, 22, 30, 40, 50, 60, 72]
START_X = [2.6,2.3,2.4,2.5,2.6,2.4,3.0,3.0,3.0,3.0,2.4,2.5,2.4,2.5,2.5,1.9,2.6,1.6,1.4,1.4,1.5,1.5]
END_X = [92.6,94.5,96.4,98,100,101,105.5,112.4,110,106.5,106.5,105.2,104.6,105.4,106,105.4,108.3,115.3,114.7,115.3,111.7,115.4]
C2000 = [49,56.8,63.8,67.8,70.9,72.4,72.7,72.3,70.7,67,60.4]
C2001 = [47,56.5,63,67,70.5,72.6,73.2,72.6,71,68,60.3]
C2002 = [47,56.6,63.6,67.5,70.9,73,73.4,72.7,71.2,68,60.5]
C2003 = [47.5,56.8,63.8,67.7,71.1,73,73.5,73,71.6,68.5,61]
C2004 = [47.5,57,64,68,71.4,73.4,74,73.4,72,69,61.6]
C2005 = [47.5,56.3,63,66.8,70.7,72.8,73.9,73.5,71.9,69.7,61.6]
C2006 = [46.5,56,63.3,67.6,71,73.3,74.4,74.4,73,70.5,62]
C2007 = [47,56,63.2,67.5,71,73.4,74.5,74.5,73.4,71.2,62]
C2008 = [47,56.2,63.4,67.7,71.2,73.6,74.7,74.6,73.7,71.6,63]
C2009 = [47.2,56.4,63.6,67.9,71.4,73.7,74.9,74.8,74,72,64]
C2010 = [47.6,57.2,64,67.8,71.4,73.6,74.9,74.7,73.8,72,64.8]
C2011 = [47.3,57,63.8,68,71.5,73.9,75,74.9,74.2,72.5,65.6]
C2012 = [47.5,57.4,64,68,71.6,74.2,75.4,75.6,74.8,73,65.7]
C2013 = [47.5,57.4,64.2,68.2,71.8,74.4,75.7,75.9,75,73,65.6]
C2014 = [47.8,57.6,64.4,68.4,72,74.6,75.8,76,75.2,73.4,66.5]
C2015 = [47.3,57.6,64.8,69,72.5,75,76.5,76.8,76,74,67.3]
C2016 = [45,56.8,63.6,67.8,71.6,74.4,75.7,76,75.6,74.6,71.6]
C2017 = [46,56.4,61.9,66.6,70.9,73.9,75.6,76.4,76.6,76,72.8]
C2018 = [45.8,56.6,62.2,66.8,71,74,75.7,76.5,76.6,76,73.3]
C2019 = [45.8,56.8,62.6,67.2,71.4,74.4,76.2,77,77,76.4,73.8]
C2020 = [46.7,57.6,64,68.6,72.7,75.6,77,77.5,77.3,76.6,73.3]
C2021 = [46,57,62.8,67.4,71.6,74.8,76.7,77.4,77.4,76.8,74]
BAND_MID = [0.8,0.6,0.5,0.5,0.8,1,1.2,1.8,2.6]
BAND_END = [5.3,5.4,5.5,5.5,5.4,5.2,5.3,5.9,6,5.8,5.8,5.6,5.5,5.6,5.5,5.3,4.7,4.7,4.6,4.7,4.4,4.3]

Y_TICKS_WIDE = [40, 50, 60, 70, 80]
Y_TICKS_NARROW = [40, 60, 80, 100]
X_TICKS = [20, 60, 100]
X_TICK_TEXT = ["20000", "", "100000"]
X_TICK_LOWER = "60000"
X_GRID_DENSE = [0.9,10.2,18.7,28.5,37.9,46.4,55.7,65.1,74,83.4,93.2,102.6,112,120.9]

W, H = 1980, 1209
COL_LEFT = [52, 455, 858, 1261, 1664]
ROW_TOP = [5, 229, 452, 674, 960]
STRIP_H, PANEL_W, PLOT_H = 33, 311, 158.7
X_RANGE = [-5.1, 127.2]
Y_RANGE_WIDE = [33.67, 91.4]
Y_RANGE_NARROW = [32.16, 106.7]
GRID = "#F0F0F0"
H_DASH = "25px,15px"
V_DASH = "0px,12px,26px,14px,26px,14px,26px,14px,26px,14px"
TICK_FONT = dict(family="Liberation Sans", size=22, color="#1a1a1a")

fig = go.Figure()
shapes, annotations = [], []

for i, year in enumerate(YEARS):
    r, c = i // 5, i % 5
    if i >= 20:
        r, c = 4, i - 20
    n = "" if i == 0 else str(i + 1)
    xa, ya = f"x{n}", f"y{n}"
    left, top = COL_LEFT[c], ROW_TOP[r] + STRIP_H
    bottom = top + PLOT_H
    has_x = year >= 2017
    has_y = c == 0

    pts = globals()[f"P{year}"] + globals()[f"E{year}"]
    px, py = pts[::2], pts[1::2]
    cy = globals()[f"C{year}"]
    cx = [START_X[i]] + KNOTS + [END_X[i]]
    half = [0.9] + BAND_MID + [BAND_END[i]]
    hi = [b + h for b, h in zip(cy, half)]
    lo = [b - h for b, h in zip(cy, half)]

    fig.add_trace(go.Scatter(x=cx + cx[::-1], y=hi + lo[::-1], mode="lines", fill="toself",
                             fillcolor="#E0E0E0", line=dict(width=0), hoverinfo="skip",
                             xaxis=xa, yaxis=ya, showlegend=False))
    fig.add_trace(go.Scatter(x=px, y=py, mode="markers",
                             marker=dict(color="black", size=4, line=dict(width=0)),
                             xaxis=xa, yaxis=ya, showlegend=False))
    fig.add_trace(go.Scatter(x=cx, y=cy, mode="lines", line=dict(color="#FF0000", width=2, shape="spline", smoothing=1),
                             xaxis=xa, yaxis=ya, showlegend=False))

    fig.layout[f"xaxis{n}"] = dict(
        domain=[left / W, (left + PANEL_W) / W], range=X_RANGE, anchor=ya, zeroline=False,
        tickmode="array", tickvals=X_TICKS if has_x else X_GRID_DENSE,
        ticktext=X_TICK_TEXT if has_x else [""] * len(X_GRID_DENSE),
        showticklabels=has_x, ticks="outside" if has_x else "", ticklen=4, tickcolor="#1a1a1a", tickwidth=1,
        showline=has_x, linecolor="#1a1a1a", linewidth=1, tickangle=0, tickfont=TICK_FONT,
        showgrid=True, gridcolor=GRID, gridwidth=2, griddash=V_DASH)
    fig.layout[f"yaxis{n}"] = dict(
        domain=[1 - bottom / H, 1 - top / H], range=Y_RANGE_WIDE if has_y else Y_RANGE_NARROW, anchor=xa,
        zeroline=False, tickmode="array", tickvals=Y_TICKS_WIDE if has_y else Y_TICKS_NARROW,
        showticklabels=has_y, ticks="outside" if has_y else "", ticklen=6, tickcolor="#1a1a1a", tickwidth=1,
        showline=has_y, linecolor="#1a1a1a", linewidth=1, tickfont=TICK_FONT,
        showgrid=True, gridcolor=GRID, gridwidth=2, griddash=H_DASH)

    shapes.append(dict(type="rect", xref="paper", yref="paper", layer="below", line_width=0, fillcolor="#EFEFEF",
                       x0=left / W, x1=(left + PANEL_W) / W, y0=1 - top / H, y1=1 - ROW_TOP[r] / H))
    annotations.append(dict(text=str(year), xref="paper", yref="paper", showarrow=False,
                            x=(left + PANEL_W / 2) / W, y=1 - (ROW_TOP[r] + STRIP_H / 2) / H,
                            xanchor="center", yanchor="middle", font=dict(family="Liberation Sans", size=24, color="#1a1a1a")))
    if has_x:
        annotations.append(dict(text=X_TICK_LOWER, xref=xa, yref="paper", showarrow=False, x=X_TICKS[1],
                                y=1 - (bottom + 46) / H, xanchor="center", yanchor="middle", font=TICK_FONT))

BLUE, RED, BLACK = "#0433FF", "#FF0000", "black"
TEXT_PIECES = [
    (897, 1036, "初期は、", BLACK, 68),
    (1172, 1036, "逆U字曲線", BLUE, 72),
    (1513, 1036, "。", BLACK, 68),
    (897, 1127, "近年のデータになるほど、", BLACK, 68),
    (1715, 1127, "収穫逓", RED, 72),
    (897, 1199, "減型へ", RED, 72),
]
for tx, ty, label, color, size in TEXT_PIECES:
    annotations.append(dict(text=label, xref="paper", yref="paper", showarrow=False, x=tx / W, y=1 - ty / H,
                            xanchor="left", yanchor="middle",
                            font=dict(family="Noto Sans CJK JP", size=size, color=color)))
for bx, by in [(831, 1040), (831, 1133)]:
    annotations.append(dict(text="•", xref="paper", yref="paper", showarrow=False, x=bx / W, y=1 - by / H,
                            xanchor="center", yanchor="middle", font=dict(family="Liberation Sans", size=60, color="black")))

fig.update_layout(width=W, height=H, margin=dict(l=0, r=0, t=0, b=0), paper_bgcolor="white", plot_bgcolor="white",
                  autosize=False, shapes=shapes, annotations=annotations, showlegend=False)
fig.write_html("out.html", config={"displayModeBar": False},
               post_script="document.documentElement.style.overflow='hidden';document.body.style.margin='0';"
                           "document.body.style.height='1209px';document.body.style.overflow='hidden';")
